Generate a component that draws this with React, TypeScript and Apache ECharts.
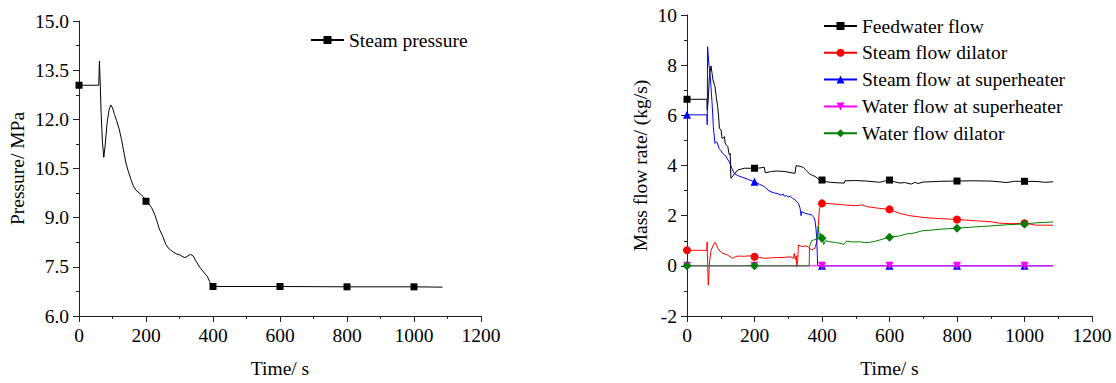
import React, { useEffect, useRef } from "react";
import * as echarts from "echarts";

const FONT = '"Liberation Serif", "Times New Roman", Times, serif';

const markerTimes = [0, 200, 400, 600, 800, 1000];
const timeTicks = { min: 0, max: 1200, interval: 200 };

const steamPressure: [number, number][] = [
  [0, 13.04], [59, 13.04], [61, 13.78], [63, 13.2], [66, 12.2], [70, 11.3], [74, 10.84], [78, 11.2],
  [84, 11.9], [90, 12.3], [95, 12.44], [100, 12.35], [106, 12.15], [112, 11.97], [120, 11.7],
  [127, 11.38], [134, 11.0], [140, 10.67], [147, 10.42], [155, 10.17], [162, 9.97], [170, 9.84],
  [182, 9.73], [192, 9.64], [200, 9.5], [208, 9.42], [217, 9.3], [227, 9.07], [233, 8.88],
  [240, 8.65], [250, 8.43], [259, 8.19], [266, 8.08], [274, 8.01], [283, 7.94], [292, 7.89],
  [300, 7.87], [308, 7.82], [316, 7.78], [325, 7.83], [333, 7.88], [341, 7.83], [350, 7.66],
  [361, 7.48], [372, 7.34], [383, 7.21], [390, 7.05], [394, 6.92], [400, 6.9], [600, 6.9],
  [800, 6.89], [1000, 6.89], [1085, 6.88],
];

const feedwaterFlow: [number, number][] = [
  [0, 6.64], [59, 6.64], [60, 6.21], [63, 6.6], [66, 7.5], [71, 7.97], [74, 7.7], [77, 7.41],
  [83, 7.14], [87, 6.7], [91, 6.34], [94, 5.9], [96, 5.48], [101, 5.42], [104, 5.08], [108, 5.1],
  [111, 5.15], [113, 4.9], [116, 4.82], [121, 4.75], [124, 4.5], [126, 4.42], [128, 4.48],
  [130, 3.49], [140, 3.65], [150, 3.82], [170, 3.89], [200, 3.89], [215, 3.9], [229, 3.93],
  [232, 3.71], [250, 3.76], [268, 3.78], [290, 3.76], [317, 3.69], [320, 3.69], [323, 3.99],
  [335, 3.97], [345, 3.92], [350, 3.85], [354, 3.79], [364, 3.66], [372, 3.6], [379, 3.57],
  [390, 3.45], [400, 3.42], [412, 3.36], [424, 3.33], [445, 3.31], [466, 3.3], [468, 3.39],
  [500, 3.4], [532, 3.38], [571, 3.33], [585, 3.38], [600, 3.42], [615, 3.35], [631, 3.3],
  [645, 3.32], [665, 3.26], [675, 3.33], [685, 3.28], [699, 3.34], [720, 3.35], [750, 3.37],
  [800, 3.38], [850, 3.39], [898, 3.38], [925, 3.35], [947, 3.32], [970, 3.37], [1000, 3.37],
  [1040, 3.36], [1060, 3.33], [1085, 3.35],
];

const steamFlowDilator: [number, number][] = [
  [0, 0.62], [59, 0.62], [59.5, 0.96], [61, 0.2], [63, -0.77], [67, 0.2], [71, 0.6], [77, 0.8],
  [83, 0.94], [87, 0.85], [91, 0.7], [98, 0.58], [106, 0.5], [113, 0.47], [120, 0.43], [128, 0.36],
  [135, 0.3], [142, 0.35], [150, 0.39], [170, 0.38], [185, 0.4], [200, 0.36], [215, 0.33],
  [229, 0.3], [250, 0.32], [268, 0.33], [290, 0.34], [307, 0.36], [315, 0.3], [318, 0.5],
  [321, 0.25], [324, 0.4], [325, -0.04], [328, 0.2], [330, 0.83], [340, 0.77], [350, 0.79],
  [359, 0.77], [369, 0.63], [379, 0.7], [386, 1.03], [389, 1.6], [392, 2.22], [396, 2.45],
  [400, 2.49], [424, 2.48], [473, 2.42], [500, 2.4], [520, 2.43], [532, 2.36], [571, 2.29],
  [600, 2.25], [630, 2.09], [660, 2.0], [699, 1.93], [750, 1.88], [800, 1.85], [850, 1.8],
  [898, 1.76], [926, 1.7], [960, 1.68], [1000, 1.7], [1035, 1.62], [1085, 1.62],
];

const steamFlowSuperheater: [number, number][] = [
  [0, 6.02], [59, 6.02], [60, 5.62], [61, 8.74], [65, 8.0], [69, 7.54], [75, 6.34], [78, 5.55],
  [83, 4.88], [87, 4.95], [90, 4.9], [95, 4.68], [100, 4.6], [105, 4.49], [110, 4.42], [115, 4.38],
  [120, 4.25], [125, 4.15], [130, 4.0], [135, 3.82], [140, 3.68], [150, 3.6], [160, 3.55],
  [180, 3.45], [200, 3.35], [215, 3.25], [229, 3.16], [240, 3.02], [249, 2.95], [260, 2.9],
  [268, 2.88], [278, 2.82], [285, 2.86], [288, 2.78], [295, 2.8], [300, 2.74], [306, 2.78],
  [313, 2.69], [320, 2.63], [326, 2.55], [330, 2.49], [335, 2.3], [338, 2.0], [340, 2.16],
  [350, 2.09], [360, 2.06], [369, 2.03], [375, 1.95], [379, 1.83], [382, 1.5], [384, 1.16],
  [386, 0.5], [387, 0.03], [388, 0], [400, 0], [600, 0], [800, 0], [1000, 0], [1085, 0],
];

const waterFlowSuperheater: [number, number][] = [
  [0, 0], [200, 0], [400, 0], [600, 0], [800, 0], [1000, 0], [1085, 0],
];

const waterFlowDilator: [number, number][] = [
  [0, 0], [200, 0], [362, 0], [363, 0.76], [369, 1.0], [375, 1.03], [382, 1.05], [386, 1.2],
  [389, 1.59], [392, 1.1], [395, 1.3], [398, 0.95], [400, 1.1], [405, 0.85], [410, 1.0],
  [424, 0.96], [440, 0.93], [453, 0.9], [465, 0.85], [473, 0.99], [490, 0.95], [512, 0.96],
  [530, 0.92], [551, 0.96], [571, 1.03], [600, 1.14], [630, 1.19], [650, 1.27], [670, 1.3],
  [699, 1.4], [720, 1.42], [750, 1.46], [800, 1.5], [850, 1.55], [898, 1.59], [950, 1.64],
  [1000, 1.67], [1040, 1.72], [1085, 1.75],
];

function withMarkers(points: [number, number][]) {
  return points.map(([t, v]) =>
    markerTimes.includes(t) ? { value: [t, v] } : { value: [t, v], symbol: "none" }
  );
}

const textBase = { fontFamily: FONT, fontSize: 19.5, color: "#000" };

function timeAxis(gridIndex: number) {
  return {
    type: "value",
    gridIndex,
    ...timeTicks,
    name: "Time/ s",
    nameLocation: "middle",
    nameGap: 42,
    nameTextStyle: textBase,
    axisLine: { show: true, onZero: false, lineStyle: { color: "#222", width: 1 } },
    axisTick: { show: true, inside: false, length: 6, lineStyle: { color: "#222" } },
    minorTick: { show: true, splitNumber: 2, length: 3, lineStyle: { color: "#222" } },
    axisLabel: { ...textBase, margin: 9, formatter: (v: number) => String(v) },
    splitLine: { show: false },
    minorSplitLine: { show: false },
  };
}

function valueAxis(gridIndex: number, min: number, max: number, interval: number, name: string, nameGap: number, decimals: number) {
  return {
    type: "value",
    gridIndex,
    min,
    max,
    interval,
    name,
    nameLocation: "middle",
    nameGap,
    nameTextStyle: textBase,
    axisLine: { show: true, onZero: false, lineStyle: { color: "#222", width: 1 } },
    axisTick: { show: true, inside: false, length: 6, lineStyle: { color: "#222" } },
    minorTick: { show: true, splitNumber: 2, length: 3, lineStyle: { color: "#222" } },
    axisLabel: { ...textBase, margin: 10, formatter: (v: number) => v.toFixed(decimals) },
    splitLine: { show: false },
    minorSplitLine: { show: false },
  };
}

function lineSeries(name: string, points: [number, number][], color: string, symbol: string, xi: number, size = 7, rotate = 0) {
  return {
    type: "line",
    name,
    xAxisIndex: xi,
    yAxisIndex: xi,
    data: withMarkers(points),
    color,
    symbol,
    symbolSize: size,
    symbolRotate: rotate,
    showSymbol: true,
    showAllSymbol: true,
    lineStyle: { color, width: 1 },
    itemStyle: { color },
    emphasis: { disabled: true },
  };
}

export default function App() {
  const ref = useRef<HTMLDivElement>(null);
  useEffect(() => {
    if (!ref.current) return;
    const chart = echarts.init(ref.current, undefined, { renderer: "svg" });
    chart.setOption({
      animation: false,
      backgroundColor: "#fff",
      grid: [
        { left: 79, top: 21, width: 402, height: 296 },
        { left: 687, top: 15, width: 405, height: 301 },
      ],
      xAxis: [timeAxis(0), timeAxis(1)],
      yAxis: [
        valueAxis(0, 6, 15, 1.5, "Pressure/ MPa", 52, 1),
        valueAxis(1, -2, 10, 2, "Mass flow rate/ (kg/s)", 37, 0),
      ],
      legend: [
        {
          data: ["Steam pressure"],
          left: 310,
          top: 30,
          padding: 0,
          itemWidth: 33,
          itemHeight: 10,
          textStyle: textBase,
          selectedMode: false,
        },
        {
          data: [
            "Feedwater flow",
            "Steam flow dilator",
            "Steam flow at superheater",
            "Water flow at superheater",
            "Water flow dilator",
          ],
          orient: "vertical",
          left: 823,
          top: 16,
          padding: 0,
          itemGap: 6.8,
          itemWidth: 33,
          itemHeight: 10,
          textStyle: textBase,
          selectedMode: false,
        },
      ],
      series: [
        lineSeries("Steam pressure", steamPressure, "#000000", "rect", 0, 7),
        lineSeries("Feedwater flow", feedwaterFlow, "#000000", "rect", 1, 7),
        lineSeries("Steam flow dilator", steamFlowDilator, "#ff0000", "circle", 1, 8),
        lineSeries("Steam flow at superheater", steamFlowSuperheater, "#0000ff", "triangle", 1, 8),
        lineSeries("Water flow at superheater", waterFlowSuperheater, "#ff00ff", "triangle", 1, 8, 180),
        lineSeries("Water flow dilator", waterFlowDilator, "#008000", "diamond", 1, 9),
      ],
    });
    return () => chart.dispose();
  }, []);
  return (
    <div
      ref={ref}
      style={{ position: "fixed", left: 0, top: 0, width: 1116, height: 383, background: "#fff" }}
    />
  );
}
